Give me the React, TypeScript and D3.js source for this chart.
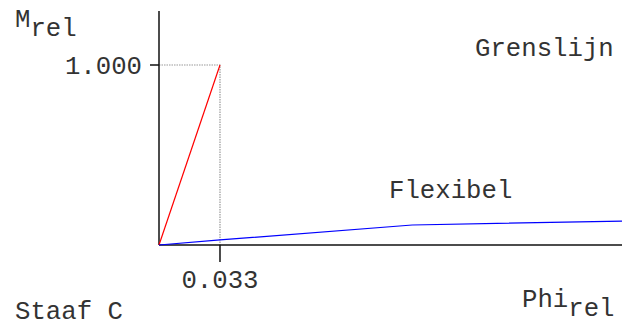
import React, { useEffect, useRef } from "react";
import * as d3 from "d3";

// Grenslijn (rigid) and Flexibel curves, Phi_rel vs M_rel
const grensPhi = [0, 0.033];
const grensM = [0, 1.0];
const flexPhi = [0, 0.033, 0.137, 0.2505];
const flexM = [0, 0.028, 0.111, 0.133];
const xTicks = [0.033];
const yTicks = [1.0];

const App = () => {
  const svgRef = useRef<SVGSVGElement>(null);

  useEffect(() => {
    const width = 630, height = 331;
    const svg = d3.select(svgRef.current);
    svg.selectAll("*").remove();
    svg.attr("width", width).attr("height", height);

    const font = "'Liberation Mono', 'Courier New', monospace";
    const fs = 25.7;
    const ink = "#333";

    const x = d3.scaleLinear().domain([0, 0.2505]).range([159, 622]);
    const y = d3.scaleLinear().domain([0, 1]).range([245, 65]);

    // dotted guides to the Grenslijn corner
    const cx = x(grensPhi[1]), cy = y(grensM[1]);
    svg.append("path")
      .attr("d", `M${x(0)},${cy}H${cx}V${y(0)}`)
      .attr("fill", "none")
      .attr("stroke", "#999")
      .attr("stroke-width", 1.2)
      .attr("stroke-dasharray", "1.5,1");

    // axes
    svg.append("line")
      .attr("x1", x(0)).attr("x2", x(0))
      .attr("y1", y(1.3)).attr("y2", y(0))
      .attr("stroke", "#111").attr("stroke-width", 1.5);
    svg.append("line")
      .attr("x1", x(0)).attr("x2", x(0.2505))
      .attr("y1", y(0)).attr("y2", y(0))
      .attr("stroke", "#111").attr("stroke-width", 1.5);

    // ticks
    yTicks.forEach(t => {
      svg.append("line")
        .attr("x1", x(0) - 9).attr("x2", x(0))
        .attr("y1", y(t)).attr("y2", y(t))
        .attr("stroke", "#111").attr("stroke-width", 1.5);
      svg.append("text")
        .attr("x", 142).attr("y", y(t) + 9)
        .attr("text-anchor", "end")
        .text(d3.format(".3f")(t));
    });
    xTicks.forEach(t => {
      svg.append("line")
        .attr("x1", x(t)).attr("x2", x(t))
        .attr("y1", y(0)).attr("y2", y(0) + 17)
        .attr("stroke", "#111").attr("stroke-width", 1.5);
      svg.append("text")
        .attr("x", x(t)).attr("y", 288)
        .attr("text-anchor", "middle")
        .text(d3.format(".3f")(t));
    });

    const line = d3.line<[number, number]>()
      .x(d => x(d[0]))
      .y(d => y(d[1]));

    svg.append("path")
      .datum(grensPhi.map((p, i) => [p, grensM[i]] as [number, number]))
      .attr("d", line)
      .attr("fill", "none")
      .attr("stroke", "red")
      .attr("stroke-width", 1.2);

    svg.append("path")
      .datum(flexPhi.map((p, i) => [p, flexM[i]] as [number, number]))
      .attr("d", line)
      .attr("fill", "none")
      .attr("stroke", "blue")
      .attr("stroke-width", 1.2);

    // labels
    const mLabel = svg.append("text").attr("x", 15).attr("y", 27);
    mLabel.append("tspan").text("M");
    mLabel.append("tspan").attr("dy", 9).text("rel");

    const phiLabel = svg.append("text").attr("x", 522).attr("y", 307);
    phiLabel.append("tspan").text("Phi");
    phiLabel.append("tspan").attr("dy", 9).text("rel");

    svg.append("text").attr("x", 475).attr("y", 56).text("Grenslijn");
    svg.append("text").attr("x", 389).attr("y", 198).text("Flexibel");
    svg.append("text").attr("x", 15).attr("y", 319).text("Staaf C");

    svg.selectAll("text")
      .attr("font-family", font)
      .attr("font-size", fs)
      .attr("fill", ink);
  }, []);

  return (
    <svg ref={svgRef} style={{ position: "absolute", left: 0, top: 0, background: "#fff" }} />
  );
};

export default App;
